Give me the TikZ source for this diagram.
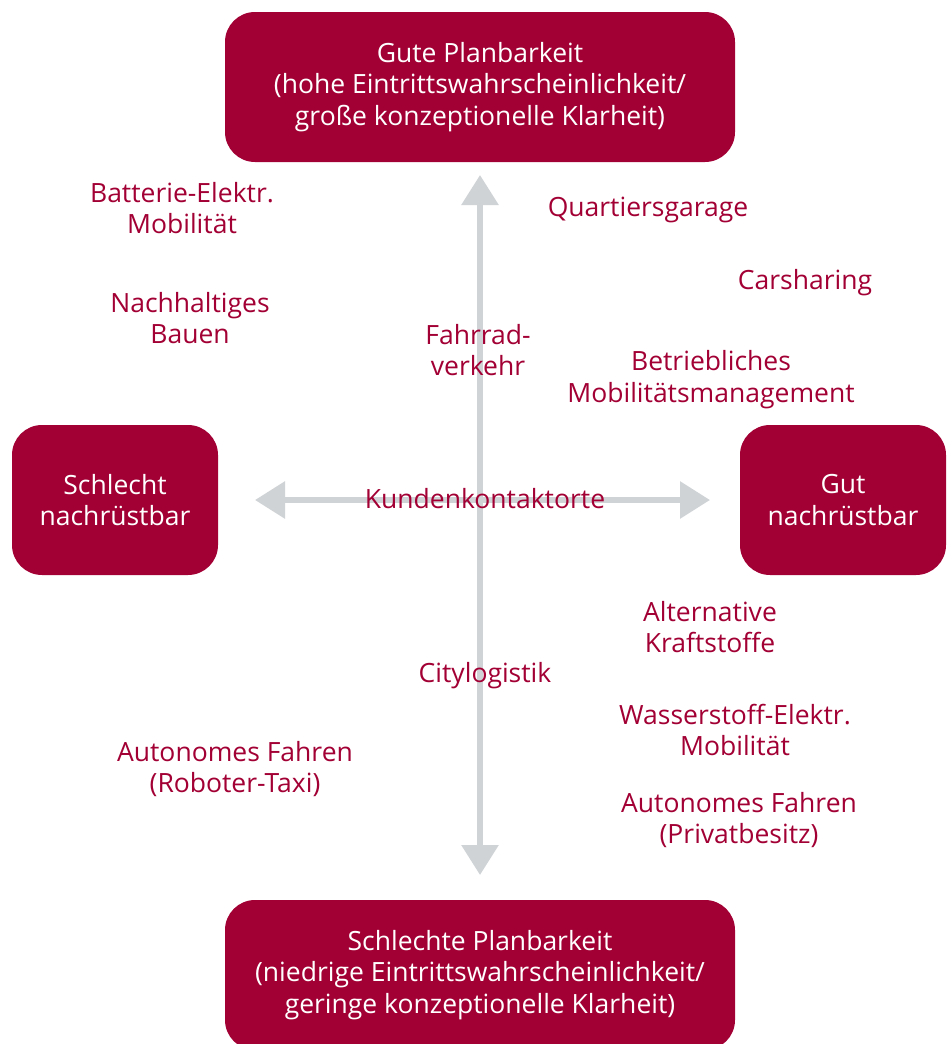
\documentclass[tikz,border=0pt]{standalone}
\usepackage{fontspec}
\setmainfont{Open Sans}
\usetikzlibrary{arrows.meta, positioning, calc}
\definecolor{PlanRed}{HTML}{A20034}
\definecolor{AxisGray}{HTML}{D0D3D6}

\begin{document}
\begin{tikzpicture}[x=1pt, y=-1pt, >={Triangle[width=36pt, length=30pt]},
    box/.style={fill=PlanRed, text=white, rounded corners=30pt, align=center,
        font=\fontsize{26.5}{31.8}\selectfont, inner sep=0pt},
    item/.style={text=PlanRed, align=center, font=\fontsize{26.5}{31.8}\selectfont, inner sep=0pt},
    axis/.style={AxisGray, line width=6pt, <->}]
        \useasboundingbox (0,0) rectangle (946,1044);
        % Axis end points
        \coordinate (upper) at (480,175);
        \coordinate (lower) at (480,875);
        \coordinate (leftend) at (255,500);
        \coordinate (rightend) at (710,500);
        \draw [axis] (lower) -- (upper);
        \draw [axis] (leftend) -- (rightend);
        % Boxes at the ends of the axes
        \node [box, minimum width=510pt, minimum height=150pt] (good) at (480,87)
            {Gute Planbarkeit\\(hohe Eintrittswahrscheinlichkeit/\\große konzeptionelle Klarheit)};
        \node [box, minimum width=510pt, minimum height=150pt] (bad) at (480,975)
            {Schlechte Planbarkeit\\(niedrige Eintrittswahrscheinlichkeit/\\geringe konzeptionelle Klarheit)};
        \node [box, minimum width=206pt, minimum height=150pt] (poor) at (115,500)
            {Schlecht\\nachrüstbar};
        \node [box, minimum width=206pt, minimum height=150pt] (fine) at (843,500)
            {Gut\\nachrüstbar};
        % Topics
        \node [item] (battery) at (182,208) {Batterie-Elektr.\\Mobilität};
        \node [item] (building) at (190,318) {Nachhaltiges\\Bauen};
        \node [item] (bike) at (478,350) {Fahrrad-\\verkehr};
        \node [item] (garage) at (648,210) {Quartiersgarage};
        \node [item] (sharing) at (805,283) {Carsharing};
        \node [item] (company) at (711,380) {Betriebliches\\Mobilitätsmanagement};
        \node [item] (customer) at (485,499) {Kundenkontaktorte};
        \node [item] (fuel) at (710,627) {Alternative\\Kraftstoffe};
        \node [item] (logistics) at (485,676) {Citylogistik};
        \node [item] (hydrogen) at (735,730) {Wasserstoff-Elektr.\\Mobilität};
        \node [item] (robotaxi) at (235,769) {Autonomes Fahren\\(Roboter-Taxi)};
        \node [item] (private) at (739,820) {Autonomes Fahren\\(Privatbesitz)};
    \end{tikzpicture}
\end{document}
